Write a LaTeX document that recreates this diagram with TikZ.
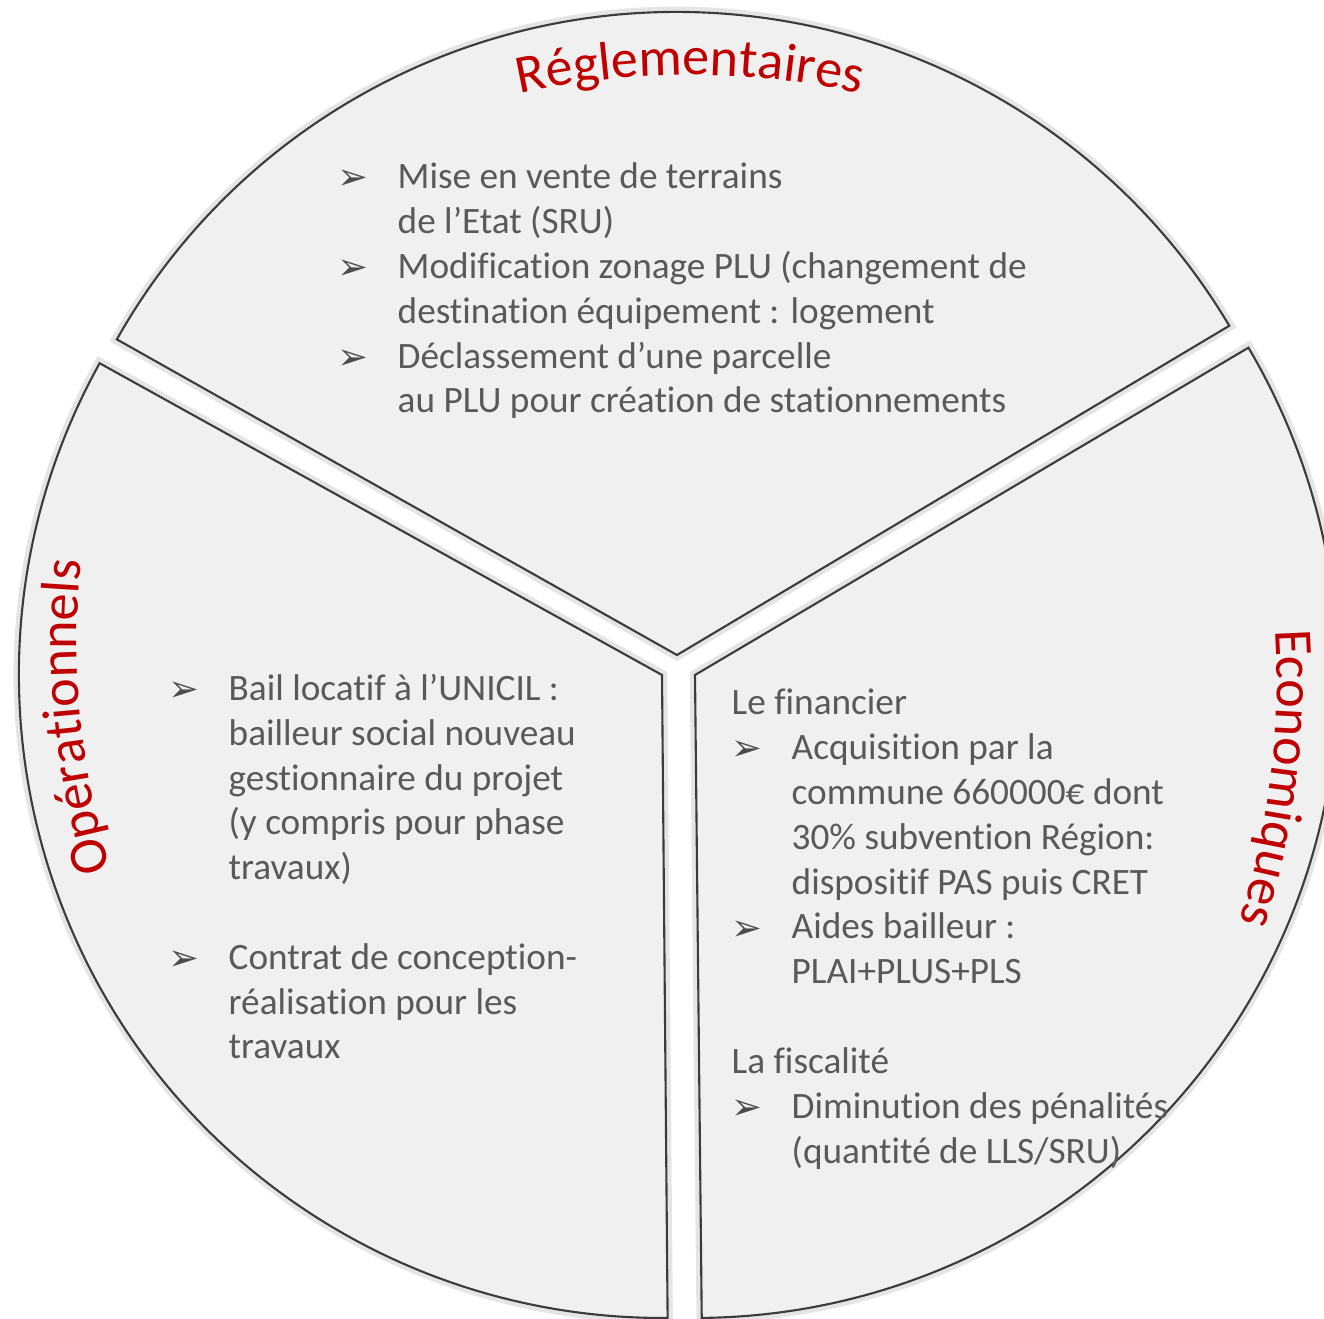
\documentclass[tikz,border=0pt]{standalone}
\usepackage{fontspec}
\setmainfont[Ligatures=NoCommon]{Carlito}
\newfontfamily\symbfont{DejaVu Sans}
\usetikzlibrary{decorations.text}

\definecolor{titrerouge}{HTML}{C00000}
\definecolor{textegris}{HTML}{595959}
\definecolor{fondsecteur}{HTML}{F0F0F0}
\definecolor{bordsecteur}{HTML}{3C3C3C}

\newcommand{\titrefont}{\fontsize{15.4}{18}\selectfont}
\newcommand{\puce}{\makebox[6mm][l]{\raisebox{-0.3pt}{\color{black!70}\symbfont\fontsize{10.5}{10.5}\selectfont ➢}}}
\newcommand{\suite}{\hspace*{6mm}}

\begin{document}
\begin{tikzpicture}[x=0.1mm, y=0.1mm,
    every node/.style={font=\fontsize{10.6}{12.75}\selectfont, text=textegris, inner sep=0pt},
    secteur/.style={draw=bordsecteur, line width=0.6pt, fill=fondsecteur,
        preaction={draw=black!10, line width=3pt}},
    titre/.style={decorate, decoration={text along path, text align=center,
        text={|\titrefont\color{titrerouge}|#1}}}]
    \useasboundingbox (0,0) rectangle (1324,1318);
    \clip (0,0) rectangle (1324,1318);

    % Sectors
    \coordinate (c-regl) at (677,663);
    \coordinate (c-oper) at (662,643);
    \coordinate (c-econ) at (695,643);
    \draw[secteur] (c-regl) -- ++(30.8:64.3mm) arc[start angle=30.8, end angle=150.6, radius=64.3mm] -- cycle;
    \draw[secteur] (c-oper) -- ++(151:64.3mm) arc[start angle=151, end angle=270.5, radius=64.3mm] -- cycle;
    \draw[secteur] (c-econ) -- ++(-89.4:64.3mm) arc[start angle=-89.4, end angle=30.6, radius=64.3mm] -- cycle;

    % Titles
    \path[titre=Réglementaires] ([shift={(120:80mm)}]690,443) arc[start angle=120, end angle=60, radius=80mm];
    \path[titre=Opérationnels] ([shift={(200.5:80mm)}]877,678) arc[start angle=200.5, end angle=170.5, radius=80mm];
    \path[titre=Economiques] ([shift={(8:80mm)}]477,638) arc[start angle=8, end angle=-22, radius=80mm];

    % Reglementaires (anchored on the last line)
    \node[anchor=base west, align=left] (regl-text) at (337,905) {%
        \puce Mise en vente de terrains\\
        \suite de l’Etat (SRU)\\
        \puce Modification zonage PLU (changement de\\
        \suite destination équipement : logement\\
        \puce Déclassement d’une parcelle\\
        \suite au PLU pour création de stationnements};

    % Operationnels
    \node[anchor=base west, align=left] (oper-text) at (168,259) {%
        \puce Bail locatif à l’UNICIL :\\
        \suite bailleur social nouveau\\
        \suite gestionnaire du projet\\
        \suite (y compris pour phase\\
        \suite travaux)\\
        ~\\
        \puce Contrat de conception-\\
        \suite réalisation pour les\\
        \suite travaux};

    % Economiques
    \node[anchor=base west, align=left] (econ-text) at (731,155) {%
        Le financier\\
        \puce Acquisition par la\\
        \suite commune 660000€ dont\\
        \suite 30\% subvention Région:\\
        \suite dispositif PAS puis CRET\\
        \puce Aides bailleur :\\
        \suite PLAI+PLUS+PLS\\
        ~\\
        La fiscalité\\
        \puce Diminution des pénalités\\
        \suite (quantité de LLS/SRU)};
\end{tikzpicture}
\end{document}
